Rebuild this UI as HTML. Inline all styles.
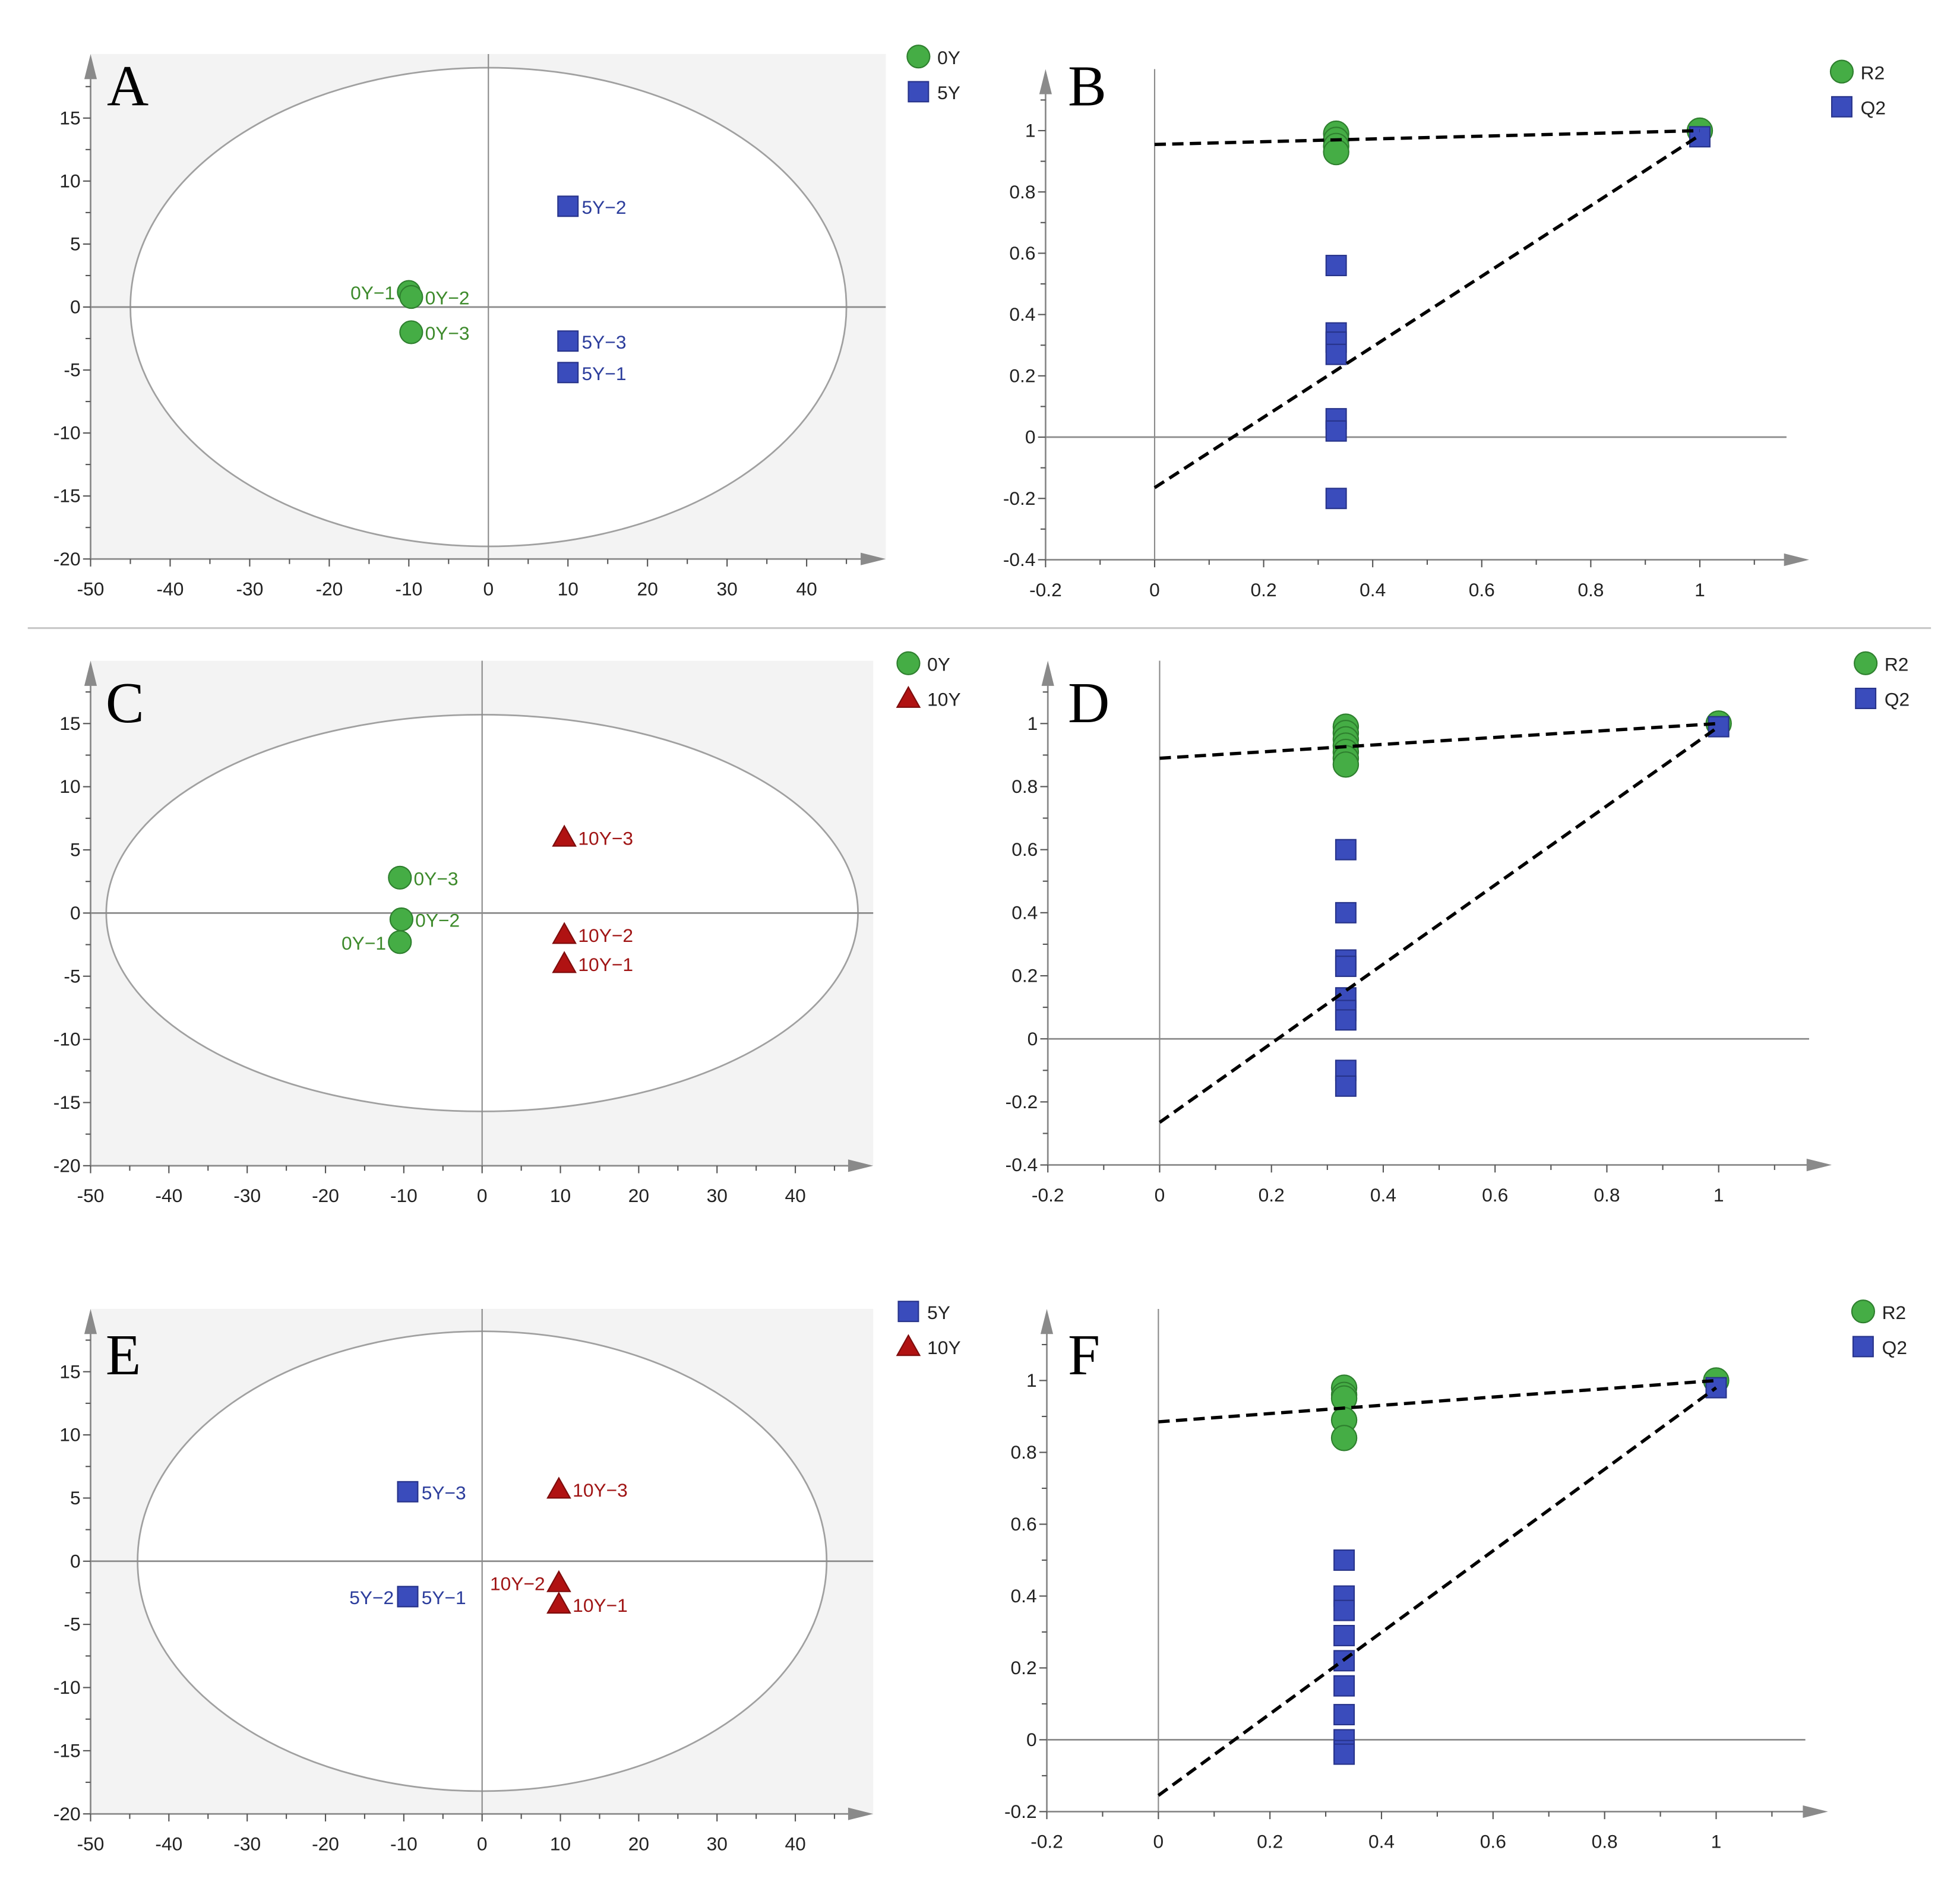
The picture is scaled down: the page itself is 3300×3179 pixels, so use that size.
<!DOCTYPE html>
<html><head><meta charset="utf-8"><style>
html,body{margin:0;padding:0;background:#fff;}
svg{display:block;}
</style></head><body>
<svg id="fig" xmlns="http://www.w3.org/2000/svg" width="3300" height="3179" viewBox="0 0 1560 1503" font-family="Liberation Sans, DejaVu Sans, sans-serif">
<rect x="0" y="0" width="1560" height="1503" fill="#fff"/>
<line x1="22" y1="500" x2="1537" y2="500" stroke="#c8c8c8" stroke-width="1.5"/>
</svg>
<script>
// ---------- Score plot data ----------
const scoreA_names = ["0Y-1","0Y-2","0Y-3","5Y-2","5Y-3","5Y-1"];
const scoreA_x = [-10, -9.7, -9.7, 10, 10, 10];
const scoreA_y = [1.2, 0.8, -2.0, 8.0, -2.7, -5.2];
const scoreA_group = ["0Y","0Y","0Y","5Y","5Y","5Y"];
const scoreA_ellipse = [45, 19];

const scoreC_names = ["0Y-3","0Y-2","0Y-1","10Y-3","10Y-2","10Y-1"];
const scoreC_x = [-10.5, -10.3, -10.5, 10.5, 10.5, 10.5];
const scoreC_y = [2.8, -0.5, -2.3, 6.0, -1.7, -4.0];
const scoreC_group = ["0Y","0Y","0Y","10Y","10Y","10Y"];
const scoreC_ellipse = [48, 15.7];

const scoreE_names = ["5Y-3","5Y-2","5Y-1","10Y-3","10Y-2","10Y-1"];
const scoreE_x = [-9.5, -9.5, -9.5, 9.8, 9.8, 9.8];
const scoreE_y = [5.5, -2.8, -2.8, 5.7, -1.7, -3.4];
const scoreE_group = ["5Y","5Y","5Y","10Y","10Y","10Y"];
const scoreE_ellipse = [44, 18.2];

const scoreXTicks = [-50,-40,-30,-20,-10,0,10,20,30,40];
const scoreYTicks = [15,10,5,0,-5,-10,-15,-20];

// ---------- Permutation data ----------
const permB_r2 = [0.99, 0.97, 0.95, 0.93];
const permB_q2 = [0.56, 0.34, 0.31, 0.27, 0.06, 0.02, -0.2];
const permB_orig = [1.0, 0.98];
const permB_r2line = [0.955, 1.0];
const permB_q2line = [-0.165, 0.985];

const permD_r2 = [0.99, 0.97, 0.95, 0.93, 0.91, 0.89, 0.87];
const permD_q2 = [0.6, 0.4, 0.25, 0.23, 0.13, 0.09, 0.06, -0.1, -0.15];
const permD_orig = [1.0, 0.99];
const permD_r2line = [0.89, 1.0];
const permD_q2line = [-0.265, 0.99];

const permF_r2 = [0.98, 0.96, 0.95, 0.89, 0.84];
const permF_q2 = [0.5, 0.4, 0.36, 0.29, 0.22, 0.15, 0.07, 0.0, -0.03, -0.04];
const permF_orig = [1.0, 0.98];
const permF_r2line = [0.885, 1.0];
const permF_q2line = [-0.155, 0.98];

const permXTicks = [-0.2, 0, 0.2, 0.4, 0.6, 0.8, 1];
const permYTicksBD = [1, 0.8, 0.6, 0.4, 0.2, 0, -0.2, -0.4];
const permYTicksF = [1, 0.8, 0.6, 0.4, 0.2, 0, -0.2];
const permXpos = 0.333;

const SVGNS = "http://www.w3.org/2000/svg";
const svg = document.getElementById('fig');
function mk(tag, attrs, parent){
  const e = document.createElementNS(SVGNS, tag);
  for (const k in attrs) e.setAttribute(k, attrs[k]);
  (parent||svg).appendChild(e);
  return e;
}
function txt(s, attrs, parent){ const e = mk('text', attrs, parent); e.textContent = s; return e; }

const COL = {
  "0Y": {fill:"#45ad45", stroke:"#2e7f2e", text:"#3d8a2b", shape:"circle"},
  "5Y": {fill:"#3a4cbc", stroke:"#27338a", text:"#2c3d9c", shape:"square"},
  "10Y":{fill:"#b01212", stroke:"#7d0c0c", text:"#a01515", shape:"tri"},
  "R2": {fill:"#45ad45", stroke:"#2e7f2e", shape:"circle"},
  "Q2": {fill:"#3a4cbc", stroke:"#27338a", shape:"square"}
};
function marker(kind, cx, cy, g, r){
  const c = COL[kind]; r = r||9;
  if (c.shape==="circle") return mk('circle',{cx:cx,cy:cy,r:r,fill:c.fill,stroke:c.stroke,'stroke-width':1},g);
  if (c.shape==="square") return mk('rect',{x:cx-8,y:cy-8,width:16,height:16,fill:c.fill,stroke:c.stroke,'stroke-width':1},g);
  return mk('polygon',{points:(cx)+","+(cy-9)+" "+(cx+9)+","+(cy+7)+" "+(cx-9)+","+(cy+7),fill:c.fill,stroke:c.stroke,'stroke-width':1},g);
}
function arrowUp(x, y, g){ mk('polygon',{points:x+","+y+" "+(x-5)+","+(y+20)+" "+(x+5)+","+(y+20),fill:"#8a8a8a"},g); }
function arrowRight(x, y, g){ mk('polygon',{points:x+","+y+" "+(x-20)+","+(y-5)+" "+(x-20)+","+(y+5),fill:"#8a8a8a"},g); }

function scorePanel(p){
  const g = mk('g',{});
  
  
  const X = v => p.xa + (v - (-50)) * (p.xb - p.xa) / 90;
  const Y = v => p.ya + (15 - v) * (p.yb - p.ya) / 35;
  const bg = mk('rect',{x:p.xa,y:p.top,width:p.right-p.xa,height:Y(-20)-p.top,fill:"#f3f3f3"},g);
  
  
  const el = mk('ellipse',{cx:X(0),cy:Y(0),rx:X(p.ell[0])-X(0),ry:Y(0)-Y(p.ell[1]),fill:"#fff",stroke:"#a0a0a0",'stroke-width':1.3},g);
  
  
  mk('line',{x1:X(0),y1:p.top,x2:X(0),y2:Y(-20),stroke:"#8a8a8a",'stroke-width':1},g);
  mk('line',{x1:p.xa,y1:Y(0),x2:p.right,y2:Y(0),stroke:"#8a8a8a",'stroke-width':1.3},g);
  // axes
  mk('line',{x1:p.xa,y1:Y(-20),x2:p.xa,y2:p.top+5,stroke:"#8a8a8a",'stroke-width':1.3},g);
  arrowUp(p.xa, p.top, g);
  mk('line',{x1:p.xa,y1:Y(-20),x2:p.right-5,y2:Y(-20),stroke:"#8a8a8a",'stroke-width':1.3},g);
  arrowRight(p.right, Y(-20), g);
  for (let v=-50; v<=45; v+=5){
    const major = scoreXTicks.indexOf(v)>=0;
    mk('line',{x1:X(v),y1:Y(-20),x2:X(v),y2:Y(-20)+(major?6:4),stroke:"#555",'stroke-width':1},g);
  }
  for (const v of scoreXTicks){
    const t = txt(String(v),{x:X(v),y:Y(-20)+29,'font-size':15,'text-anchor':'middle',fill:"#222"},g);
    
    
  }
  for (let v=-20; v<=17.5; v+=2.5){
    const major = scoreYTicks.indexOf(v)>=0;
    mk('line',{x1:p.xa-(major?6:4),y1:Y(v),x2:p.xa,y2:Y(v),stroke:"#555",'stroke-width':1},g);
  }
  for (const v of scoreYTicks){
    const t = txt(String(v),{x:p.xa-8,y:Y(v)+5,'font-size':15,'text-anchor':'end',fill:"#222"},g);
    
    
  }
  // points
  for (let i=0;i<p.names.length;i++){
    const cx = X(p.xs[i]), cy = Y(p.ys[i]);
    const m = marker(p.groups[i], cx, cy, g);
    
    
    const left = p.left.indexOf(p.names[i])>=0;
    const lt = txt(p.names[i].replace('-', '\u2212'),{x:left?cx-11:cx+11,y:cy+6,'font-size':15,'text-anchor':left?'end':'start',fill:COL[p.groups[i]].text},g);
    
    
  }
  const L = txt(p.letter,{x:p.letterX,y:p.letterY,'font-size':46,'font-family':'Liberation Serif, serif',fill:"#000"},g);
  
  
  // legend
  for (let i=0;i<p.legend.length;i++){
    const ly = p.legY + i*28;
    const m = marker(p.legend[i], p.legX, ly, g);
    
    
    const t = txt(p.legend[i],{x:p.legX+15,y:ly+6,'font-size':15,fill:"#222"},g);
    
    
  }
}

function permPanel(p){
  const g = mk('g',{});
  
  
  const X = v => p.x0 + v * (p.x1 - p.x0);
  const Y = v => p.y0 - v * (p.y0 - p.y1);
  const ymin = p.yTicks[p.yTicks.length-1];
  const yb = Y(ymin);
  const xa = X(-0.2);
  mk('line',{x1:X(0),y1:p.top,x2:X(0),y2:yb,stroke:"#8a8a8a",'stroke-width':1},g);
  mk('line',{x1:xa,y1:Y(0),x2:p.right-18,y2:Y(0),stroke:"#8a8a8a",'stroke-width':1.3},g);
  mk('line',{x1:xa,y1:yb,x2:xa,y2:p.top+5,stroke:"#8a8a8a",'stroke-width':1.3},g);
  arrowUp(xa, p.top, g);
  mk('line',{x1:xa,y1:yb,x2:p.right-5,y2:yb,stroke:"#8a8a8a",'stroke-width':1.3},g);
  arrowRight(p.right, yb, g);
  for (let v=-0.2; v<=1.151; v+=0.1){
    const major = Math.abs(Math.round(v*10)%2)===0;
    mk('line',{x1:X(v),y1:yb,x2:X(v),y2:yb+(major?6:4),stroke:"#555",'stroke-width':1},g);
  }
  for (const v of permXTicks){
    const t = txt(String(v),{x:X(v),y:yb+29,'font-size':15,'text-anchor':'middle',fill:"#222"},g);
    
    
  }
  for (let v=ymin; v<=1.151; v+=0.1){
    const major = Math.abs(Math.round(v*10)%2)===0;
    mk('line',{x1:xa-(major?6:4),y1:Y(v),x2:xa,y2:Y(v),stroke:"#555",'stroke-width':1},g);
  }
  for (const v of p.yTicks){
    const t = txt(String(v),{x:xa-8,y:Y(v)+5,'font-size':15,'text-anchor':'end',fill:"#222"},g);
    
    
  }
  // points
  for (let i=0;i<p.q2.length;i++){
    const m = marker('Q2', X(permXpos), Y(p.q2[i]), g);
    
    
  }
  for (let i=0;i<p.r2.length;i++){
    const m = marker('R2', X(permXpos), Y(p.r2[i]), g, 10);
    
    
  }
  const mo = marker('R2', X(1), Y(p.orig[0]), g, 10);
  
  
  const mq = marker('Q2', X(1), Y(p.orig[1]), g);
  
  
  // regression lines
  const l1 = mk('line',{x1:X(0),y1:Y(p.r2line[0]),x2:X(1),y2:Y(p.r2line[1]),stroke:"#000",'stroke-width':2.6,'stroke-dasharray':'9,5'},g);
  
  
  const l2 = mk('line',{x1:X(0),y1:Y(p.q2line[0]),x2:X(1),y2:Y(p.q2line[1]),stroke:"#000",'stroke-width':2.6,'stroke-dasharray':'9,5'},g);
  
  
  const L = txt(p.letter,{x:p.letterX,y:p.letterY,'font-size':46,'font-family':'Liberation Serif, serif',fill:"#000"},g);
  
  
  const legs = ["R2","Q2"];
  for (let i=0;i<2;i++){
    const ly = p.legY + i*28;
    const m = marker(legs[i], p.legX, ly, g);
    
    
    const t = txt(legs[i],{x:p.legX+15,y:ly+6,'font-size':15,fill:"#222"},g);
    
    
  }
}

scorePanel({letter:"A",xa:72,xb:642,ya:94,yb:445,top:43,right:705,ell:scoreA_ellipse,
  names:scoreA_names,xs:scoreA_x,ys:scoreA_y,groups:scoreA_group,left:["0Y-1"],
  letterX:85,letterY:84,legend:["0Y","5Y"],legX:731,legY:45});
scorePanel({letter:"C",xa:72,xb:633,ya:576,yb:928,top:526,right:695,ell:scoreC_ellipse,
  names:scoreC_names,xs:scoreC_x,ys:scoreC_y,groups:scoreC_group,left:["0Y-1"],
  letterX:84,letterY:575,legend:["0Y","10Y"],legX:723,legY:528});
scorePanel({letter:"E",xa:72,xb:633,ya:1092,yb:1444,top:1042,right:695,ell:scoreE_ellipse,
  names:scoreE_names,xs:scoreE_x,ys:scoreE_y,groups:scoreE_group,left:["5Y-2","10Y-2"],
  letterX:84,letterY:1094,legend:["5Y","10Y"],legX:723,legY:1044});

permPanel({letter:"B",x0:919,x1:1353,y0:348,y1:104,top:55,right:1440,yTicks:permYTicksBD,
  r2:permB_r2,q2:permB_q2,orig:permB_orig,r2line:permB_r2line,q2line:permB_q2line,
  letterX:850,letterY:84,legX:1466,legY:57});
permPanel({letter:"D",x0:923,x1:1368,y0:827,y1:576,top:526,right:1458,yTicks:permYTicksBD,
  r2:permD_r2,q2:permD_q2,orig:permD_orig,r2line:permD_r2line,q2line:permD_q2line,
  letterX:850,letterY:575,legX:1485,legY:528});
permPanel({letter:"F",x0:922,x1:1366,y0:1385,y1:1099,top:1042,right:1455,yTicks:permYTicksF,
  r2:permF_r2,q2:permF_q2,orig:permF_orig,r2line:permF_r2line,q2line:permF_q2line,
  letterX:850,letterY:1094,legX:1483,legY:1044});
</script>
</body></html>
